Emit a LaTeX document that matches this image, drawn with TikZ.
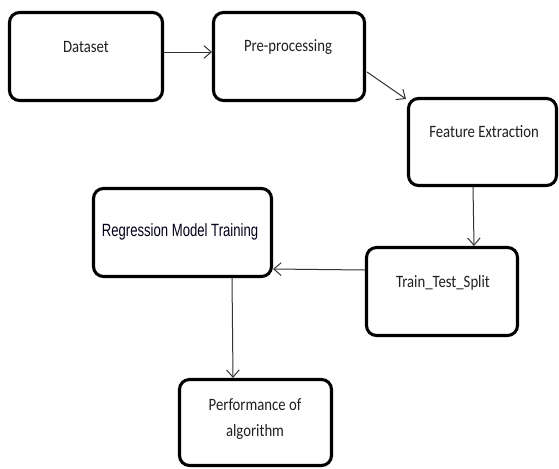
\documentclass[tikz,border=0pt]{standalone}
\usepackage{fontspec}
\usetikzlibrary{arrows.meta,calc}
\newfontfamily\boxfont[FakeStretch=0.85]{Carlito}
\newfontfamily\regfont[FakeStretch=0.74]{Liberation Sans}
\begin{document}
\begin{tikzpicture}[x=0.75pt,y=-0.75pt,
  stepbox/.style={draw=black, line width=2.3pt, rounded corners=7.5pt,
    inner sep=0pt, fill=white},
  lbl/.style={font=\boxfont\fontsize{13pt}{20pt}\selectfont, text=black!88,
    align=center, inner sep=0pt},
  reglbl/.style={font=\regfont\fontsize{13.3pt}{16pt}\selectfont, text=black!90!blue,
    inner sep=0pt},
  flow/.style={draw=black!80, line width=0.75pt,
    -{Straight Barb[length=5.5pt,width=9.5pt,line width=0.75pt]}}]
\useasboundingbox (0,0) rectangle (559,468);

% process boxes
\node[stepbox, minimum width=153*0.75pt, minimum height=88*0.75pt] (data) at (86,56.5) {};
\node[stepbox, minimum width=151*0.75pt, minimum height=88*0.75pt] (pre)  at (289,56.5) {};
\node[stepbox, minimum width=148*0.75pt, minimum height=87*0.75pt] (feat) at (482.5,142) {};
\node[stepbox, minimum width=178*0.75pt, minimum height=88*0.75pt] (reg)  at (182.5,232.5) {};
\node[stepbox, minimum width=151*0.75pt, minimum height=88*0.75pt] (tts)  at (442,291.5) {};
\node[stepbox, minimum width=152*0.75pt, minimum height=86*0.75pt] (perf) at (255.5,422.5) {};

% box captions
\node[lbl] (dataT) at (86,47) {Dataset};
\node[lbl] (preT)  at (288,47) {Pre-processing};
\node[lbl] (featT) at (484,132) {Feature Extraction};
\node[reglbl] (regT) at (180,232) {Regression Model Training};
\node[lbl] (ttsT)  at (443,283) {Train\_Test\_Split};
\node[lbl] (perfT) at (255,419) {Performance of\\algorithm};

% connectors
\draw[flow] ($(data.east)+(0,-4.5)$) -- ($(pre.west)+(0,-4.5)$);
\draw[flow] ($(pre.east)+(1,15.5)$) -- ($(feat.north west)+(-1,2)$);
\draw[flow] ($(feat.south)+(-9.5,0)$) -- ($(tts.north)+(32,0)$);
\draw[flow] ($(tts.west)+(0,-21.5)$) -- ($(reg.east)+(0,36.5)$);
\draw[flow] ($(reg.south)+(49.5,0)$) -- ($(perf.north)+(-22.5,0)$);
\end{tikzpicture}
\end{document}
